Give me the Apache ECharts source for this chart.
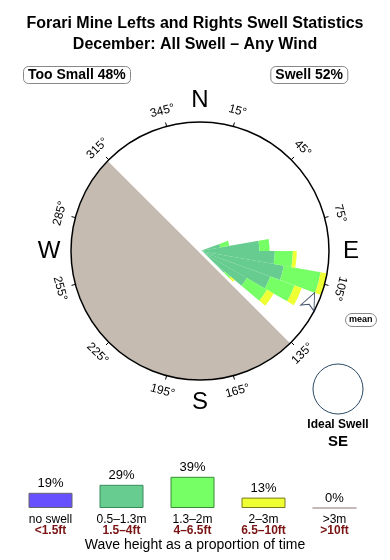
<!DOCTYPE html>
<html><head><meta charset="utf-8">
<script src="https://cdn.jsdelivr.net/npm/echarts@6/dist/echarts.min.js"></script>
<style>html,body{margin:0;padding:0;background:#fff}#c{width:390px;height:560px}</style>
</head><body><div id="c"></div>
<script>
// ---------- data ----------
const dirBins = ['0','10','20','30','40','50','60','70','80','90','100','110','120','130','140','150','160','170',
                 '180','190','200','210','220','230','240','250','260','270','280','290','300','310','320','330','340','350'];
const sw05_13 = [0,0,0,0,0,0,0,16,46,58,66,58,42,25,0,0,0,0, 0,0,0,0,0,0,0,0,0,0,0,0,0,0,0,0,0,0];
const sw13_2  = [0,0,0,0,0,0,0, 7, 8,14,29,20,18, 6,0,0,0,0, 0,0,0,0,0,0,0,0,0,0,0,0,0,0,0,0,0,0];
const sw2_3   = [0,0,0,0,0,0,0, 0, 0, 3, 5, 6, 6, 4,0,0,0,0, 0,0,0,0,0,0,0,0,0,0,0,0,0,0,0,0,0,0];
const tickBearings = [15,45,75,105,135,165,195,225,255,285,315,345];
const tickLabels = ['15°','45°','75°','105°','135°','165°','195°','225°','255°','285°','315°','345°'];
const compassLetters = ['N','E','S','W'];
const compassBearings = [0,90,180,270];
const shadowFrom = 135, shadowTo = 315;      // bearings of the sheltered half
const meanBearing = 110;
const tooSmallPct = 48, swellPct = 52;
const idealSwell = 'SE';
const legendNames = ['no swell','0.5–1.3m','1.3–2m','2–3m','>3m'];
const legendFeet  = ['<1.5ft','1.5–4ft','4–6.5ft','6.5–10ft','>10ft'];
const legendPct   = [19,29,39,13,0];

// ---------- style ----------
const FONT = '"Liberation Sans", Arial, Helvetica, sans-serif';
const CX = 200, CY = 251, R = 129;
const cTeal = '#66cc8f', cGreen = '#77ff66', cYellow = '#eeff33', cPurple = '#6650ff', cGrey = '#c5bbb0';
const legendColors = [cPurple, cTeal, cGreen, cYellow, '#c8b8b0'];
const legendBorders = ['#666666', '#3a8a5a', '#3a8a3a', '#7a7a20', '#b0a0a0'];

const chart = echarts.init(document.getElementById('c'), null, {renderer:'canvas'});

function polarXY(bearing, r){
  const a = bearing * Math.PI / 180;
  return [CX + r*Math.sin(a), CY - r*Math.cos(a)];
}
const graphics = [];
tickBearings.forEach((b,i)=>{
  const p = polarXY(b, 145);
  const flip = (b > 120 && b < 270);
  const rot = -((flip ? b+180 : b) * Math.PI/180);
  graphics.push({type:'text', x:p[0], y:p[1], rotation:rot, z:20,
    style:{text:tickLabels[i], fill:'#000', font:'12px '+FONT, align:'center', verticalAlign:'middle'}});
});
compassLetters.forEach((t,i)=>{
  const p = polarXY(compassBearings[i], 151);
  graphics.push({type:'text', x:p[0], y:p[1], z:20,
    style:{text:t, fill:'#000', font:'24px '+FONT, align:'center', verticalAlign:'middle'}});
});
graphics.push({type:'circle', shape:{cx:338, cy:389, r:25}, z:20,
  style:{fill:'#fff', stroke:'#2b4a66', lineWidth:1}});
graphics.push({type:'text', x:338, y:425, z:20,
  style:{text:'Ideal Swell', fill:'#000', font:'bold 12px '+FONT, align:'center', verticalAlign:'middle'}});
graphics.push({type:'text', x:338, y:442, z:20,
  style:{text:idealSwell, fill:'#000', font:'bold 15px '+FONT, align:'center', verticalAlign:'middle'}});
graphics.push({type:'text', x:195, y:545, z:20,
  style:{text:'Wave height as a proportion of time', fill:'#000', font:'14px '+FONT, align:'center', verticalAlign:'middle'}});

const boxStyle = {padding:[2,5], borderColor:'#888', borderWidth:1, borderRadius:5};

const option = {
  animation:false,
  backgroundColor:'#fff',
  textStyle:{fontFamily:FONT},
  title:[
    {text:'Forari Mine Lefts and Rights Swell Statistics', left:'center', top:11,
     textStyle:{fontSize:16, fontWeight:'bold', color:'#000', fontFamily:FONT}},
    {text:'December: All Swell – Any Wind', left:'center', top:32,
     textStyle:{fontSize:16, fontWeight:'bold', color:'#000', fontFamily:FONT}},
    Object.assign({text:'Too Small '+tooSmallPct+'%', left:23, top:66,
     textStyle:{fontSize:14, fontWeight:'bold', color:'#000', lineHeight:14, fontFamily:FONT}}, boxStyle),
    Object.assign({text:'Swell '+swellPct+'%', right:42, top:66,
     textStyle:{fontSize:14, fontWeight:'bold', color:'#000', lineHeight:14, fontFamily:FONT}}, boxStyle),
    {text:'mean', left:345, top:313, padding:[1,4], borderColor:'#888', borderWidth:1, borderRadius:7,
     textStyle:{fontSize:9, fontWeight:'bold', color:'#000', lineHeight:12, fontFamily:FONT}}
  ],
  polar:[
    {center:[CX,CY], radius:R},
    {center:[CX,CY], radius:R}
  ],
  angleAxis:[
    {polarIndex:0, type:'category', data:dirBins, startAngle:90, clockwise:true,
     axisLine:{show:false}, axisTick:{show:false}, axisLabel:{show:false}, splitLine:{show:false}},
    {polarIndex:1, type:'value', min:0, max:360, interval:30, startAngle:90-tickBearings[0], clockwise:true, z:10,
     axisLine:{show:true, lineStyle:{color:'#000', width:1.5}},
     axisTick:{show:true, inside:false, length:4, lineStyle:{color:'#000', width:1}},
     axisLabel:{show:false}, splitLine:{show:false}}
  ],
  radiusAxis:[
    {polarIndex:0, min:0, max:100, axisLine:{show:false}, axisTick:{show:false}, axisLabel:{show:false}, splitLine:{show:false}},
    {polarIndex:1, min:0, max:100, axisLine:{show:false}, axisTick:{show:false}, axisLabel:{show:false}, splitLine:{show:false}}
  ],
  grid:{left:15, width:355, top:468, height:40},
  xAxis:{type:'category', data:legendNames, axisLine:{show:false}, axisTick:{show:false},
    axisLabel:{interval:0, margin:6, formatter:(v,i)=>'{a|'+v+'}\n{b|'+legendFeet[i]+'}',
      rich:{a:{fontSize:12, color:'#000', lineHeight:11, fontFamily:FONT},
            b:{fontSize:12, color:'#7a1414', fontWeight:'bold', lineHeight:12, fontFamily:FONT}}}},
  yAxis:{type:'value', min:0, max:50, show:false},
  series:[
    {type:'bar', coordinateSystem:'polar', polarIndex:0, stack:'rose', data:sw05_13, barWidth:'100%',
     itemStyle:{color:cTeal}, silent:true, z:2},
    {type:'bar', coordinateSystem:'polar', polarIndex:0, stack:'rose', data:sw13_2, barWidth:'100%',
     itemStyle:{color:cGreen}, silent:true, z:2},
    {type:'bar', coordinateSystem:'polar', polarIndex:0, stack:'rose', data:sw2_3, barWidth:'100%',
     itemStyle:{color:cYellow}, silent:true, z:2},
    {type:'pie', center:[CX,CY], radius:R+1, startAngle:90-shadowFrom, clockwise:true, z:5, silent:true,
     label:{show:false}, labelLine:{show:false}, emphasis:{disabled:true},
     data:[{value:(shadowTo-shadowFrom), itemStyle:{color:cGrey, borderColor:'#fff', borderWidth:3}},
           {value:360-(shadowTo-shadowFrom), itemStyle:{color:'rgba(0,0,0,0)'}}]},
    {type:'scatter', coordinateSystem:'polar', polarIndex:1, z:12, silent:true,
     data:[[94.5, meanBearing - tickBearings[0]]],
     symbol:'arrow', symbolSize:[11,17], symbolRotate:-25,
     itemStyle:{color:'#fff', borderColor:'#1a2a4a', borderWidth:1}},
    {type:'bar', data:legendPct.map((v,i)=>({value:v, itemStyle:{color:legendColors[i], borderColor:legendBorders[i], borderWidth:1}})),
     barWidth:44, silent:true,
     label:{show:true, position:'top', distance:3, formatter:'{c}%', fontSize:13, color:'#000', fontFamily:FONT}}
  ],
  graphic:graphics
};
chart.setOption(option);
</script></body></html>
